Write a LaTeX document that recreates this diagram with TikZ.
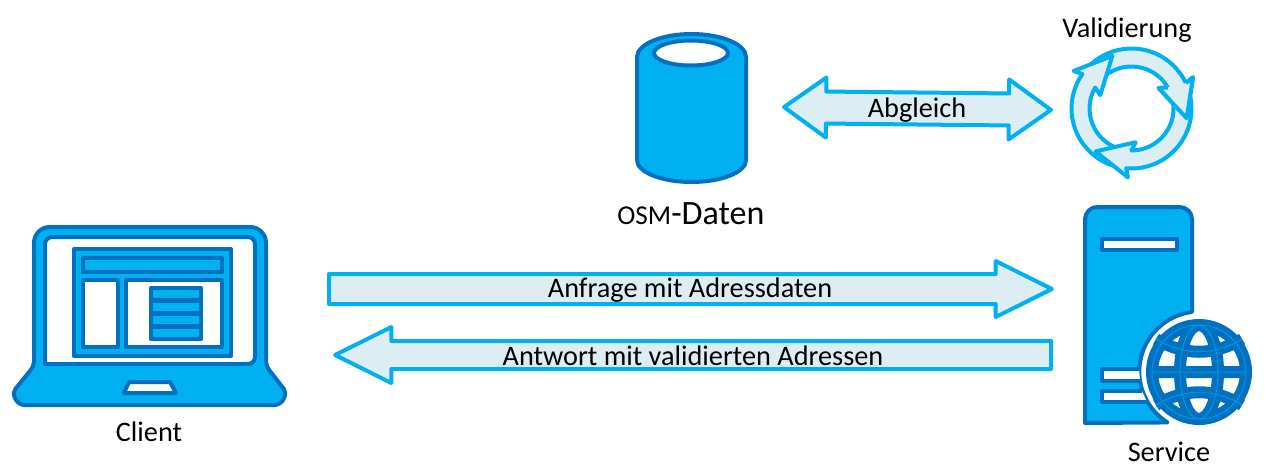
\documentclass[tikz,border=0pt]{standalone}
\usepackage{fontspec}
\setmainfont{Carlito}
\usetikzlibrary{shapes,shapes.arrows,positioning}
\definecolor{iconfill}{HTML}{00B0F0}
\definecolor{icondark}{HTML}{0070C0}
\definecolor{arrowfill}{HTML}{DCEDF4}
\newcommand{\globegrid}{(0,0) ellipse[x radius=19, y radius=47] (-47,0) -- (47,0)
  (-43,-33) .. controls (-15,-16) and (15,-16) .. (43,-33) (-43,33) .. controls (-15,16) and (15,16) .. (43,33)
  (0,0) circle[radius=47]}

\begin{document}
\begin{tikzpicture}[
  x=0.02cm, y=-0.02cm,
  icon/.style={draw=icondark, line width=0.08cm, fill=#1, line join=round},
  cyc/.style={draw=iconfill, line width=0.08cm, fill=arrowfill, line join=round},
  blockarrow/.style={draw=iconfill, line width=0.08cm, fill=arrowfill, inner xsep=0pt, line join=round},
  lbl/.style={font=\fontsize{16.1}{19}\selectfont, inner sep=0pt}
]
  \useasboundingbox (0,0) rectangle (1268,474);

  % laptop
  \draw[icon=iconfill, rounded corners=4pt] (34,366) [rounded corners=9pt] -- (34,227) -- (266,227) [rounded corners=3pt] -- (266,366) -- (287,393) -- (280,405) -- (19,405) -- (12,393) -- cycle;
  \draw[icon=white, rounded corners=4pt] (45,364) -- (45,237) -- (255,237) -- (255,364) [sharp corners] -- cycle;
  \draw[icon=iconfill] (74,249) rectangle (231,356);
  \draw[icon=iconfill] (83,258) rectangle (222,272);
  \draw[icon=white] (83,280) rectangle (118,347);
  \draw[icon=white] (126,280) rectangle (222,347);
  \foreach \rowy in {288,301,314,327} {
    \draw[icon=iconfill] (151,\rowy) rectangle (201,\rowy+12);
  }
  \draw[icon=white] (124,393) -- (129,382) -- (170,382) -- (176,393) -- cycle;
  \node[lbl] (client) at (149,432) {Client};

  % database
  \draw[icon=iconfill] (637,57) arc[start angle=180, end angle=360, x radius=54.5, y radius=23] -- (746,160)
    arc[start angle=0, end angle=180, x radius=54.5, y radius=22] -- cycle;
  \draw[icon=white] (691,53) ellipse[x radius=37, y radius=12.5];
  \node[lbl] (osm) at (691,214) {{\fontsize{15.5}{19}\selectfont OSM}{\fontsize{19.4}{23}\selectfont -Daten}};

  % validation cycle
  \node[lbl] (valid) at (1127,30) {Validierung};
  \foreach \ang in {0,-240,-120} {
    \begin{scope}[shift={(1131.5,108.5)}, y=0.02cm, rotate=\ang]
      \draw[cyc] (133:60) arc[start angle=133, end angle=25, radius=60] -- (27:69) -- (-10:56)
        -- (37:34) -- (30:42) arc[start angle=30, end angle=127, radius=42] -- cycle;
    \end{scope}
  }
  \begin{scope}[shift={(1131.5,108.5)}, y=0.02cm]
    \fill[arrowfill] (25:60) -- (27:69) -- (-10:56) -- (37:34) -- (30:42) -- cycle;
    \draw[cyc, fill=none] (25:60) -- (27:69) -- (-10:56) -- (37:34) -- (30:42);
  \end{scope}

  % server
  \draw[icon=iconfill, rounded corners=7pt] (1085,423) -- (1085,207) -- (1192,207) [sharp corners] -- (1192,312)
    arc[start angle=263, end angle=122, radius=60] -- (1085,423) -- cycle;
  \draw[icon=white] (1102,239) rectangle (1177,250);
  \fill[white] (1102,369) -- (1139,369) -- (1140,381) -- (1102,381) -- cycle;
  \fill[white] (1102,391) -- (1142,391) -- (1147,402) -- (1102,402) -- cycle;
  \draw[icon=white, fill=none] (1139,369) -- (1102,369) -- (1102,381) -- (1140,381);
  \draw[icon=white, fill=none] (1142,391) -- (1102,391) -- (1102,402) -- (1147,402);
  \begin{scope}[shift={(1199,372)}]
    \fill[white] (0,0) circle[radius=50];
    \draw[icondark, line width=0.24cm] \globegrid;
    \draw[iconfill!60!icondark, line width=0.02cm] \globegrid;
  \end{scope}
  \node[lbl] (service) at (1169,452) {Service};

  % block arrows
  \node[blockarrow, single arrow, inner ysep=0.26cm, single arrow head extend=0.26cm, minimum height=14.46cm, single arrow tip angle=53, anchor=tail] (request) at (327,289) {};
  \node[lbl] (requesttext) at (690,290) {Anfrage mit Adressdaten};
  \node[blockarrow, single arrow, inner ysep=0.24cm, single arrow head extend=0.28cm, minimum height=14.32cm, single arrow tip angle=53, shape border rotate=180, anchor=tail] (response) at (1053,355) {};
  \node[lbl] (responsetext) at (693,356) {Antwort mit validierten Adressen};
  \node[blockarrow, double arrow, inner ysep=0.28cm, double arrow head extend=0.28cm, double arrow tip angle=71, minimum height=5.34cm, rotate=-0.6] (match) at (917.5,108.5) {};
  \node[lbl] (matchtext) at (917,110.5) {Abgleich};
\end{tikzpicture}
\end{document}
